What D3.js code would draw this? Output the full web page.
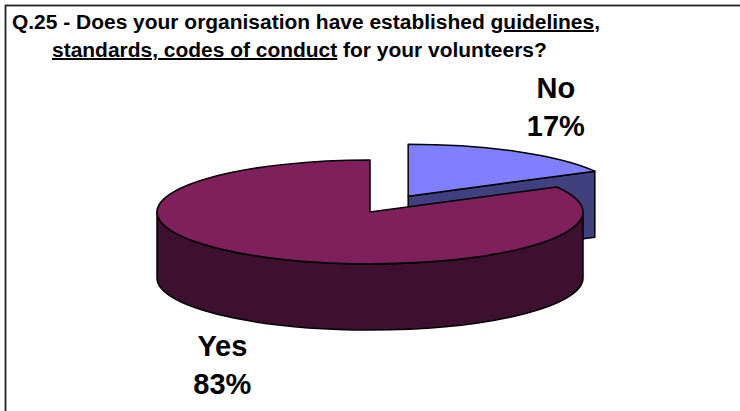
<!DOCTYPE html>
<html>
<head>
<meta charset="utf-8">
<script src="https://cdn.jsdelivr.net/npm/d3@7"></script>
<style>
body{margin:0;background:#fff}
svg{display:block}
text{font-family:"Liberation Sans",Arial,sans-serif;font-weight:bold;fill:#000}
</style>
</head>
<body>
<svg id="chart" width="740" height="411"></svg>
<script>
// data
var categories=["No","Yes"]
var values=[17,83]
var topColors=["#8080ff","#7f1f5b"]
var sideColors=["#40407f","#3d1030"]
var titleLine1=[["Q.25 - Does your organisation have established ",false],["guidelines,",true]]
var titleLine2=[["standards, codes of conduct",true],[" for your volunteers?",false]]

var svg=d3.select("#chart")

// frame
svg.append("rect").attr("x",5.5).attr("y",5.5).attr("width",800).attr("height",500)
  .attr("fill","none").attr("stroke","#222").attr("stroke-width",1.8)

// title, squeezed like the narrow font of the original
addLine=(parts,x,y)=>{
  var t=svg.append("text").attr("x",x).attr("y",y).attr("font-size","20px")
  t.selectAll("tspan").data(parts).enter().append("tspan")
    .text(d=>d[0])
    .style("text-decoration",d=>d[1]?"underline":"none")
    .style("white-space","pre")
  return t
}
var t1=addLine(titleLine1,12,29)
var t2=addLine(titleLine2,52,57)
var squeeze=588/t1.node().getComputedTextLength()
t1.attr("textLength",588).attr("lengthAdjust","spacingAndGlyphs")
t2.attr("textLength",t2.node().getComputedTextLength()*squeeze).attr("lengthAdjust","spacingAndGlyphs")

// 3d pie geometry
var cx=370,cy=212,rx=213,ry=52,depth=66,explode=75
var pie=d3.pie().sort(null).value(d=>d)
var arcs=pie(values)

pt=(a,o)=>[cx+o[0]+rx*Math.sin(a),cy+o[1]-ry*Math.cos(a)]
offs=arcs.map((d,i)=>{
  if(i!=0) return [0,0]
  var m=(d.startAngle+d.endAngle)/2
  return [explode*Math.sin(m),-explode*Math.cos(m)*ry/rx]
})

function topPath(d,o){
  var c=[cx+o[0],cy+o[1]],p0=pt(d.startAngle,o),p1=pt(d.endAngle,o)
  var large=(d.endAngle-d.startAngle)>Math.PI?1:0
  return "M"+c+"L"+p0+"A"+rx+","+ry+" 0 "+large+" 1 "+p1+"Z"
}
function outerWall(a0,a1,o){
  var p0=pt(a0,o),p1=pt(a1,o)
  var large=(a1-a0)>Math.PI?1:0
  return "M"+p0+"A"+rx+","+ry+" 0 "+large+" 1 "+p1+
    "L"+[p1[0],p1[1]+depth]+"A"+rx+","+ry+" 0 "+large+" 0 "+[p0[0],p0[1]+depth]+"Z"
}
function radialWall(a,o){
  var c=[cx+o[0],cy+o[1]],p=pt(a,o)
  return "M"+c+"L"+p+"L"+[p[0],p[1]+depth]+"L"+[c[0],c[1]+depth]+"Z"
}

var g=svg.append("g").attr("stroke","#000").attr("stroke-width",1.5).attr("stroke-linejoin","round")

arcs.forEach((d,i)=>{
  var o=offs[i]
  // radial wall at end angle faces the viewer when it points to the right front
  if(Math.sin(d.endAngle)>0 && d.endAngle<Math.PI)
    g.append("path").attr("d",radialWall(d.endAngle,o)).attr("fill",sideColors[i])
  if(d.startAngle>Math.PI)
    g.append("path").attr("d",radialWall(d.startAngle,o)).attr("fill",sideColors[i])
  var a0=Math.max(d.startAngle,Math.PI/2),a1=Math.min(d.endAngle,Math.PI*1.5)
  if(a1>a0)
    g.append("path").attr("d",outerWall(a0,a1,o)).attr("fill",sideColors[i])
  g.append("path").attr("d",topPath(d,o)).attr("fill",topColors[i])
})

// labels
var lrx=290,lry=102
arcs.forEach((d,i)=>{
  var m=(d.startAngle+d.endAngle)/2,o=offs[i]
  var x=cx+o[0]+lrx*Math.sin(m)
  var y=cy+o[1]-lry*Math.cos(m)+(Math.cos(m)<0?depth:0)
  var t=svg.append("text").attr("text-anchor","middle").attr("font-size","29px")
  t.append("tspan").attr("x",x).attr("y",y-10).text(categories[i])
  t.append("tspan").attr("x",x).attr("y",y+28).text(d3.format(".0%")(d.value/d3.sum(values)))
})
</script>
</body>
</html>
